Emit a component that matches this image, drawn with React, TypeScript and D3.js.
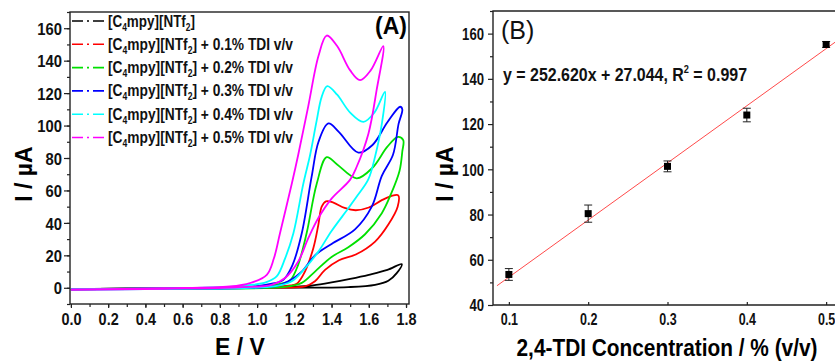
import React, { useRef, useEffect } from "react";
import * as d3 from "d3";

// ---- panel A: cyclic voltammograms, points are [E / V, I / µA]
const cvBlank = [
  [0, -0.8], [0.4, -0.4], [0.8, -0.1], [1.1, 0.2], [1.2, 0.6], [1.3, 1.5], [1.4, 3.3], [1.5, 5.5],
  [1.6, 8], [1.7, 11], [1.777, 14.6],
  [1.75, 9], [1.705, 4.3], [1.634, 1.8], [1.49, 0.4], [1.3, 0.1], [1.0, -0.1], [0.5, -0.5], [0, -0.9],
];
const cv01 = [
  [0, -0.8], [0.5, -0.4], [0.9, 0], [1.1, 0.8], [1.18, 1.5], [1.213, 2.5], [1.257, 10], [1.302, 24.4],
  [1.329, 38.8], [1.347, 50], [1.37, 53.3], [1.41, 52.5], [1.47, 49.2], [1.53, 47.8], [1.6, 49.5],
  [1.67, 54], [1.72, 56.5], [1.758, 57],
  [1.755, 50], [1.705, 39], [1.634, 28.5], [1.53, 20.5], [1.44, 17], [1.365, 11], [1.311, 4],
  [1.257, 0.8], [1.1, 0.1], [0.5, -0.5], [0, -1],
];
const cv02 = [
  [0, -0.8], [0.5, -0.4], [0.9, 0.2], [1.05, 1.2], [1.13, 2.5], [1.177, 4.5], [1.22, 14], [1.266, 33.6],
  [1.32, 64], [1.374, 80.5], [1.43, 76], [1.535, 67.5], [1.62, 74], [1.7, 87], [1.757, 93], [1.785, 91],
  [1.78, 84], [1.765, 72], [1.72, 58], [1.67, 46], [1.58, 33], [1.49, 25], [1.4, 19], [1.311, 10],
  [1.24, 3], [1.15, 0.5], [0.5, -0.5], [0, -1],
];
const cv03 = [
  [0, -0.8], [0.5, -0.4], [0.9, 0.4], [1.0, 1], [1.08, 2.5], [1.141, 4.9], [1.19, 14], [1.24, 33.6],
  [1.293, 68.5], [1.33, 90], [1.383, 101.3], [1.44, 96], [1.544, 83.3], [1.62, 88], [1.7, 102],
  [1.768, 111.6], [1.78, 110],
  [1.76, 101], [1.73, 82], [1.67, 69], [1.616, 50], [1.526, 36], [1.4, 27], [1.311, 20], [1.24, 10],
  [1.168, 4], [1.1, 1], [0.5, -0.6], [0, -1.1],
];
const cv04 = [
  [0, -0.9], [0.5, -0.4], [0.85, 0.6], [0.95, 1.5], [1.05, 3.5], [1.105, 7], [1.15, 18], [1.195, 33.6],
  [1.248, 64], [1.285, 82], [1.32, 103], [1.347, 117.7], [1.377, 124.3], [1.43, 119], [1.5, 108],
  [1.571, 102.3], [1.63, 108], [1.687, 120.8],
  [1.67, 101], [1.634, 81], [1.598, 67], [1.54, 57], [1.49, 49], [1.4, 35], [1.329, 22.3], [1.257, 12],
  [1.186, 4], [1.1, 1], [0.5, -0.7], [0, -1.2],
];
const cv05 = [
  [0, -1], [0.5, -0.3], [0.854, 0.8], [0.962, 2.9], [1.052, 8], [1.09, 18], [1.123, 33.6], [1.186, 64],
  [1.221, 82], [1.275, 112], [1.33, 143], [1.374, 155.5], [1.43, 149], [1.5, 134], [1.553, 128],
  [1.61, 134], [1.678, 149],
  [1.642, 121.8], [1.598, 95], [1.535, 74.6], [1.499, 66.5], [1.4, 55], [1.329, 43], [1.275, 30.6],
  [1.221, 16.2], [1.15, 6], [1.078, 1.8], [0.9, 0.3], [0.5, -0.6], [0, -1.3],
];
const cvSeries = [cvBlank, cv01, cv02, cv03, cv04, cv05];
const cvColors = ["#000000", "#ff0000", "#00e000", "#0000ff", "#00ffff", "#ff00ff"];
const cvSuffix = ["", " + 0.1% TDI v/v", " + 0.2% TDI v/v", " + 0.3% TDI v/v", " + 0.4% TDI v/v", " + 0.5% TDI v/v"];
const cvXTicks = [0, 0.2, 0.4, 0.6, 0.8, 1.0, 1.2, 1.4, 1.6, 1.8];
const cvYTicks = [0, 20, 40, 60, 80, 100, 120, 140, 160];

// ---- panel B: calibration
const conc = [0.1, 0.2, 0.3, 0.4, 0.5];
const peakI = [53.5, 80.4, 101.3, 124, 155.2];
const peakErr = [2.6, 3.8, 2.4, 3, 1.3];
const fitSlope = 252.62;
const fitIntercept = 27.044;
const fitR2 = 0.997;
const fitRange = [0.085, 0.53];
const concTicks = [0.1, 0.2, 0.3, 0.4, 0.5];
const peakTicks = [40, 60, 80, 100, 120, 140, 160];

const FONT = "'Liberation Sans', Arial, sans-serif";

const App = () => {
  const svgRef = useRef(null);

  useEffect(() => {
    const svg = d3.select(svgRef.current);
    svg.selectAll("*").remove();

    // squeeze text a bit, the original font is narrow
    const squeeze = (sel, k) =>
      sel.each(function () {
        const w = this.getComputedTextLength();
        d3.select(this).attr("textLength", w * k).attr("lengthAdjust", "spacingAndGlyphs");
      });

    const styleAxis = (g) => {
      g.select(".domain").remove();
      g.selectAll("line").attr("stroke", "#222").attr("stroke-width", 1.2);
      g.selectAll("text").attr("font-family", FONT).attr("font-size", 17).attr("font-weight", "bold").attr("fill", "#111");
    };

    // ================= panel A =================
    const xA = d3.scaleLinear().domain([-0.005, 1.816]).range([70, 409]);
    const yA = d3.scaleLinear().domain([-10, 170]).range([304, 12]);

    const line = d3.line()
      .x(d => xA(d[0]))
      .y(d => yA(d[1]))
      .curve(d3.curveCatmullRom.alpha(0.5));

    const gA = svg.append("g");
    gA.selectAll("path.cv")
      .data(cvSeries)
      .enter()
      .append("path")
      .attr("class", "cv")
      .attr("d", line)
      .attr("fill", "none")
      .attr("stroke", (d, i) => cvColors[i])
      .attr("stroke-width", 1.8)
      .attr("stroke-linejoin", "round");

    // minor + major ticks
    gA.append("g").attr("transform", "translate(70,0)")
      .call(d3.axisLeft(yA).tickValues(d3.range(-10, 171, 10)).tickSize(3).tickFormat(() => ""))
      .call(styleAxis);
    const yAx = gA.append("g").attr("transform", "translate(70,0)")
      .call(d3.axisLeft(yA).tickValues(cvYTicks).tickSize(6).tickPadding(2).tickFormat(d3.format("d")))
      .call(styleAxis);
    yAx.selectAll("text").attr("dy", "0.36em").call(squeeze, 0.87);

    gA.append("g").attr("transform", "translate(0,304)")
      .call(d3.axisBottom(xA).tickValues(d3.range(0, 1.81, 0.1)).tickSize(3).tickFormat(() => ""))
      .call(styleAxis);
    const xAx = gA.append("g").attr("transform", "translate(0,304)")
      .call(d3.axisBottom(xA).tickValues(cvXTicks).tickSize(4).tickFormat(d3.format(".1f")))
      .call(styleAxis);
    xAx.selectAll("text").attr("y", 21).attr("dy", null).call(squeeze, 0.85);

    gA.append("rect")
      .attr("x", 70).attr("y", 12).attr("width", 339).attr("height", 292)
      .attr("fill", "none").attr("stroke", "#222").attr("stroke-width", 1.4);

    // legend
    cvSeries.forEach((s, i) => {
      const y = 21 + i * 23.3;
      gA.append("line")
        .attr("x1", 72).attr("x2", 105).attr("y1", y).attr("y2", y)
        .attr("stroke", cvColors[i]).attr("stroke-width", 1.6)
        .attr("stroke-dasharray", "11,4,2,4");
      const t = gA.append("text")
        .attr("x", 108).attr("y", y + 5.5)
        .attr("font-family", FONT).attr("font-size", 16).attr("font-weight", "bold").attr("fill", "#111");
      t.append("tspan").text("[C");
      t.append("tspan").attr("dy", 4).attr("font-size", 10).text("4");
      t.append("tspan").attr("dy", -4).text("mpy][NTf");
      t.append("tspan").attr("dy", 4).attr("font-size", 10).text("2");
      t.append("tspan").attr("dy", -4).text("]" + cvSuffix[i]);
      t.attr("textLength", i === 0 ? 87 : 185).attr("lengthAdjust", "spacingAndGlyphs");
    });

    gA.append("text").attr("x", 407).attr("y", 34).attr("text-anchor", "end")
      .attr("font-family", FONT).attr("font-size", 23).attr("font-weight", "bold").text("(A)");

    gA.append("text").attr("x", 240).attr("y", 355).attr("text-anchor", "middle")
      .attr("font-family", FONT).attr("font-size", 23).attr("font-weight", "bold").text("E / V");
    gA.append("text").attr("transform", "translate(32,174) rotate(-90)").attr("text-anchor", "middle")
      .attr("font-family", FONT).attr("font-size", 23).attr("font-weight", "bold").text("I / µA");

    // ================= panel B =================
    const xB = d3.scaleLinear().domain([0.08, 0.52]).range([493, 842]);
    const yB = d3.scaleLinear().domain([40, 170]).range([305, 11]);
    const gB = svg.append("g");

    gB.append("line")
      .attr("x1", xB(fitRange[0])).attr("y1", yB(fitSlope * fitRange[0] + fitIntercept))
      .attr("x2", xB(fitRange[1])).attr("y2", yB(fitSlope * fitRange[1] + fitIntercept))
      .attr("stroke", "#ff4a4a").attr("stroke-width", 1);

    const pts = conc.map((c, i) => ({ c, v: peakI[i], e: peakErr[i] }));
    const eb = gB.selectAll("g.eb").data(pts).enter().append("g").attr("class", "eb")
      .attr("stroke", "#222").attr("stroke-width", 1);
    eb.append("line").attr("x1", d => xB(d.c)).attr("x2", d => xB(d.c))
      .attr("y1", d => yB(d.v - d.e)).attr("y2", d => yB(d.v + d.e));
    eb.append("line").attr("x1", d => xB(d.c) - 4).attr("x2", d => xB(d.c) + 4)
      .attr("y1", d => yB(d.v + d.e)).attr("y2", d => yB(d.v + d.e));
    eb.append("line").attr("x1", d => xB(d.c) - 4).attr("x2", d => xB(d.c) + 4)
      .attr("y1", d => yB(d.v - d.e)).attr("y2", d => yB(d.v - d.e));
    gB.selectAll("rect.pt").data(pts).enter().append("rect").attr("class", "pt")
      .attr("x", d => xB(d.c) - 3.5).attr("y", d => yB(d.v) - 3.5)
      .attr("width", 7).attr("height", 7).attr("fill", "#000");

    gB.append("g").attr("transform", "translate(493,0)")
      .call(d3.axisLeft(yB).tickValues(d3.range(50, 171, 20)).tickSize(3).tickFormat(() => ""))
      .call(styleAxis);
    const yBx = gB.append("g").attr("transform", "translate(493,0)")
      .call(d3.axisLeft(yB).tickValues(peakTicks).tickSize(5).tickPadding(4).tickFormat(d3.format("d")))
      .call(styleAxis);
    yBx.selectAll("text").attr("font-size", 16).attr("dy", "0.36em").call(squeeze, 0.82);

    const xBx = gB.append("g").attr("transform", "translate(0,305)")
      .call(d3.axisTop(xB).tickValues(concTicks).tickSize(3).tickFormat(d3.format(".1f")))
      .call(styleAxis);
    xBx.selectAll("text").attr("y", 20).attr("dy", null).attr("font-size", 16).call(squeeze, 0.78);

    gB.append("path")
      .attr("d", `M842,11 H493 V305 H842`)
      .attr("fill", "none").attr("stroke", "#222").attr("stroke-width", 1.4);

    gB.append("text").attr("x", 501).attr("y", 39)
      .attr("font-family", FONT).attr("font-size", 25).attr("fill", "#111").text("(B)");

    const eq = gB.append("text").attr("x", 503).attr("y", 81)
      .attr("font-family", FONT).attr("font-size", 19).attr("font-weight", "bold").attr("fill", "#111");
    eq.append("tspan").text(`y = ${fitSlope.toFixed(3)}x + ${fitIntercept.toFixed(3)}, R`);
    eq.append("tspan").attr("dy", -8).attr("font-size", 11).text("2");
    eq.append("tspan").attr("dy", 8).text(` = ${fitR2.toFixed(3)}`);
    eq.attr("textLength", 244).attr("lengthAdjust", "spacingAndGlyphs");

    gB.append("text").attr("x", 667).attr("y", 356).attr("text-anchor", "middle")
      .attr("font-family", FONT).attr("font-size", 24).attr("font-weight", "bold")
      .attr("textLength", 301).attr("lengthAdjust", "spacingAndGlyphs")
      .text("2,4-TDI Concentration / % (v/v)");
    gB.append("text").attr("transform", "translate(453,174) rotate(-90)").attr("text-anchor", "middle")
      .attr("font-family", FONT).attr("font-size", 23).attr("font-weight", "bold").text("I / µA");
  }, []);

  return (
    <svg
      ref={svgRef}
      width={835}
      height={362}
      style={{ position: "absolute", left: 0, top: 0, background: "#fff" }}
    ></svg>
  );
};

export default App;
